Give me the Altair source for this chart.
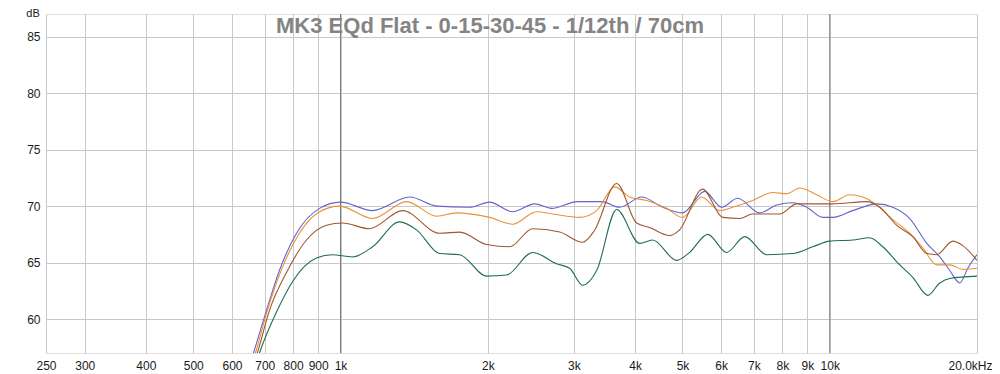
import altair as alt
import pandas as pd

# ---- data (frequency in Hz, level in dB) ----
blue_f = [650, 664, 706, 750, 813, 906, 1000, 1163, 1384, 1572, 1836, 2017, 2248, 2493, 2701,
          3052, 3418, 3721, 4127, 4554, 5003, 5550, 6014, 6484, 7193, 7792, 8401, 8974, 9676,
          10142, 11143, 12478, 13454, 14576, 15791, 16787, 17594, 18445, 19150, 20000]
blue_db = [55.7, 57.0, 60.8, 64.3, 67.6, 69.8, 70.35, 69.6, 70.8, 70.0, 69.9, 70.35, 69.5, 70.2, 69.8,
           70.4, 70.4, 69.9, 70.8, 69.9, 69.4, 71.3, 69.9, 70.7, 69.4, 70.1, 70.3, 69.9, 69.0,
           69.0, 69.6, 70.2, 69.9, 68.9, 66.7, 65.5, 64.3, 63.2, 64.5, 65.7]

orange_f = [655, 670, 709, 761, 824, 906, 995, 1163, 1365, 1572, 1727, 2017, 2248, 2517, 2714,
            3083, 3339, 3634, 3899, 4225, 4641, 5003, 5472, 5958, 6333, 6958, 7647, 8167, 8683,
            9406, 10142, 10988, 11681, 12478, 13454, 14576, 15496, 16553, 17594, 18707, 20000]
orange_db = [55.7, 57.0, 60.8, 64.6, 67.6, 69.5, 70.0, 68.9, 70.4, 69.1, 69.4, 69.0, 68.4, 69.5, 69.3,
             69.0, 69.6, 71.7, 70.8, 70.5, 69.8, 69.0, 70.8, 69.6, 69.9, 70.5, 71.2, 71.1, 71.6,
             71.0, 70.4, 71.0, 70.8, 70.1, 68.8, 67.6, 66.3, 64.8, 64.8, 64.4, 64.5]

brown_f = [660, 676, 716, 775, 852, 936, 1009, 1146, 1339, 1594, 1752, 1989, 2216, 2470, 2805,
           3126, 3300, 3668, 4030, 4285, 4707, 4933, 5498, 6042, 6546, 6958, 7903, 8560, 10142,
           11903, 12655, 13710, 14783, 15791, 16553, 17843, 18707, 20000]
brown_db = [55.7, 57.0, 60.8, 64.1, 67.0, 68.3, 68.5, 68.0, 69.6, 67.6, 67.7, 66.6, 66.4, 68.0, 67.7,
            66.8, 67.8, 72.0, 68.5, 68.1, 67.4, 67.9, 71.5, 69.0, 68.9, 69.3, 69.3, 70.2, 70.2,
            70.4, 69.9, 68.3, 67.3, 65.8, 65.7, 66.9, 66.5, 65.2]

green_f = [668, 683, 743, 800, 893, 963, 1058, 1163, 1320, 1430, 1594, 1752, 1989, 2185, 2470,
           2765, 2940, 3126, 3339, 3668, 4088, 4345, 4864, 5171, 5629, 6157, 6702, 7433, 8401,
           9231, 10000, 11143, 12072, 12836, 13905, 14783, 15866, 16787, 17594, 20000]
green_db = [55.7, 57.0, 60.8, 63.4, 65.4, 65.7, 65.5, 66.4, 68.6, 67.9, 65.8, 65.7, 63.8, 63.9, 65.9,
            64.9, 64.5, 63.0, 64.3, 69.7, 66.7, 67.0, 65.2, 65.9, 67.5, 65.9, 67.3, 65.7, 65.8,
            66.4, 66.9, 67.0, 67.2, 66.4, 64.8, 63.7, 62.1, 63.2, 63.6, 63.8]

series_names = ["0", "15", "30", "45"]
series_colors = ["#6464cc", "#e8913c", "#a0582a", "#1f6e4e"]

x_ticks = [250, 300, 400, 500, 600, 700, 800, 900, 1000, 2000, 3000, 4000, 5000,
           6000, 7000, 8000, 9000, 10000, 20000]
x_labels = ["250", "300", "400", "500", "600", "700", "800", "900", "1k", "2k", "3k", "4k",
            "5k", "6k", "7k", "8k", "9k", "10k", "20.0kHz"]
y_ticks = [60, 65, 70, 75, 80, 85]
major_lines = [1000, 10000]
title_text = "MK3 EQd Flat - 0-15-30-45 - 1/12th / 70cm"

rows = []
for name, fs, ds in zip(series_names, [blue_f, orange_f, brown_f, green_f],
                        [blue_db, orange_db, brown_db, green_db]):
    for f, d in zip(fs, ds):
        rows.append({"series": name, "freq": f, "db": d})
df = pd.DataFrame(rows)

label_map = "{" + ",".join(f"'{v}':'{l}'" for v, l in zip(x_ticks, x_labels)) + "}"

xscale = alt.Scale(type="log", domain=[250, 20000], nice=False)
yscale = alt.Scale(domain=[57, 87], nice=False, zero=False)

FONT = "Liberation Sans"

lines = alt.Chart(df).mark_line(strokeWidth=1.1, interpolate="monotone", clip=True).encode(
    x=alt.X("freq:Q", scale=xscale, title=None,
            axis=alt.Axis(values=x_ticks, labelExpr=f"{label_map}[datum.value]",
                          tickSize=0, labelPadding=7, grid=True, gridColor="#c8c8c8",
                          gridWidth=1, domain=False, labelFont=FONT, labelFontSize=12,
                          labelColor="#1a1a1a", labelOverlap=False, labelBound=False,
                          labelAlign={"condition": {"test": "datum.value == 20000", "value": "right"},
                                      "value": "center"},
                          labelOffset={"condition": {"test": "datum.value == 20000", "value": 15},
                                       "value": 0})),
    y=alt.Y("db:Q", scale=yscale, title=None,
            axis=alt.Axis(values=y_ticks, tickSize=0, labelPadding=6, grid=True,
                          gridColor="#c8c8c8", gridWidth=1, domain=False, labelFont=FONT,
                          labelFontSize=12, labelColor="#1a1a1a")),
    color=alt.Color("series:N", scale=alt.Scale(domain=series_names, range=series_colors),
                    legend=None),
    detail="series:N",
)

major = alt.Chart(pd.DataFrame({"freq": major_lines})).mark_rule(
    color="#7a7a7a", strokeWidth=1).encode(x=alt.X("freq:Q", scale=xscale))

title = alt.Chart(pd.DataFrame({"t": [title_text]})).mark_text(
    font=FONT, fontSize=22, fontWeight="bold", color="#848484", align="center",
    baseline="middle").encode(x=alt.value(444), y=alt.value(12), text="t:N")

db_label = alt.Chart(pd.DataFrame({"t": ["dB"]})).mark_text(
    font=FONT, fontSize=11, color="#1a1a1a", align="center", baseline="top").encode(
    x=alt.value(-13), y=alt.value(-6), text="t:N")

chart = alt.layer(major, lines, title, db_label).properties(
    width=931, height=339,
    padding={"left": 38, "top": 6, "right": 15, "bottom": 18},
    autosize=alt.AutoSizeParams(type="none"),
).configure_view(stroke="#bdbdbd", strokeWidth=2).configure(background="white")

chart.save("out.html", embed_options={"renderer": "svg", "actions": False})
